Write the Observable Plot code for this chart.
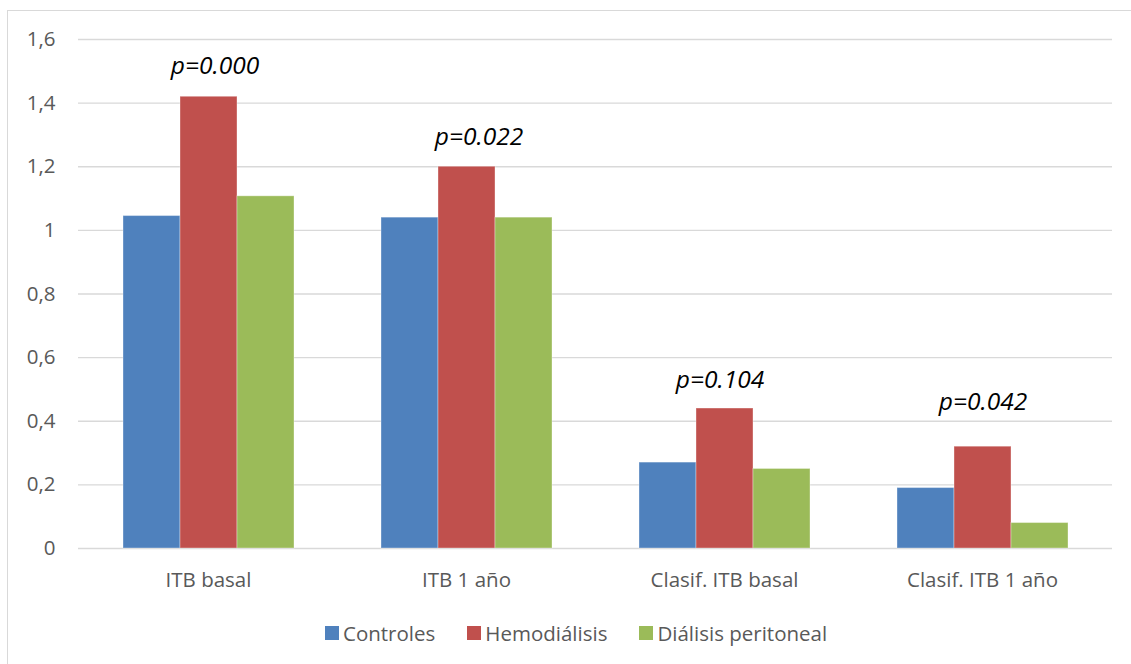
<!DOCTYPE html>
<html>
<head>
<meta charset="utf-8">
<script src="https://cdn.jsdelivr.net/npm/d3@7"></script>
<script src="https://cdn.jsdelivr.net/npm/@observablehq/plot@0.6"></script>
<style>
  html, body { margin: 0; padding: 0; background: #fff; overflow: hidden; width: 1131px; height: 664px; }
  #frame { position: absolute; left: 7px; top: 10px; width: 1300px; height: 800px; border: 1px solid #d9d9d9; box-sizing: border-box; }
  #grid, #chart { position: absolute; left: 0; top: 0; }
  #legend { position: absolute; left: 325px; top: 620px; display: flex;
            font-family: "Open Sans", sans-serif; font-size: 20.5px; color: #595959; line-height: 26px; white-space: nowrap; }
  #legend .item { display: flex; align-items: center; margin-right: 32px; }
  #legend .sw { width: 14px; height: 14px; margin-right: 4px; }
</style>
</head>
<body>
<div id="frame"></div>
<div id="grid"></div>
<div id="chart"></div>
<div id="legend"></div>
<script>
// Categories and groups
const categories = ["ITB basal", "ITB 1 año", "Clasif. ITB basal", "Clasif. ITB 1 año"];
const series = ["Controles", "Hemodiálisis", "Diálisis peritoneal"];

// Values per group, in category order
const controles = [1.045, 1.04, 0.27, 0.19];
const hemodialisis = [1.42, 1.20, 0.44, 0.32];
const dialisisPeritoneal = [1.107, 1.04, 0.25, 0.08];

// Significance per category
const pValues = ["p=0.000", "p=0.022", "p=0.104", "p=0.042"];

// Y axis ticks
const yTicks = [0, 0.2, 0.4, 0.6, 0.8, 1, 1.2, 1.4, 1.6];

const colors = ["#4F81BD", "#C0504D", "#9BBB59"];

// Where each p-value annotation sits (y in data units, horizontal nudge in px)
const pLabelY = [1.515, 1.294, 0.529, 0.459];
const pLabelNudge = [6, 12, -5, 0];

const valuesBySeries = [controles, hemodialisis, dialisisPeritoneal];
const rows = categories.flatMap((c, i) =>
  series.map((s, j) => ({category: c, series: s, value: valuesBySeries[j][i]}))
);

// Shared frame so both layers line up
const frame = {width: 1131, height: 600, marginLeft: 78, marginRight: 19, marginTop: 39, marginBottom: 52};
const baseStyle = {background: "transparent", fontFamily: "'Open Sans', sans-serif", fontSize: "20.5px", color: "#595959", overflow: "visible"};
const yDomain = [0, 1.6];

// Back layer: gridlines across the whole plot area and the value axis
const grid = Plot.plot({
  ...frame,
  style: baseStyle,
  y: {domain: yDomain, label: null},
  marks: [
    Plot.ruleY(yTicks, {stroke: "#d9d9d9", strokeWidth: 1.3}),
    Plot.axisY(yTicks, {tickSize: 0, tickPadding: 23, tickFormat: d => String(d).replace(".", ","), label: null, fill: "#595959"})
  ]
});
document.getElementById("grid").appendChild(grid);

// Front layer: grouped bars, category axis and p-value annotations
const pMarks = categories.map((c, i) =>
  Plot.text([{category: c, series: series[1], y: pLabelY[i], label: pValues[i]}], {
    fx: "category", x: "series", y: "y", text: "label",
    dx: pLabelNudge[i], fill: "#000", fontSize: 24.5, fontStyle: "italic"
  })
);

const chart = Plot.plot({
  ...frame,
  style: baseStyle,
  fx: {domain: categories, paddingInner: 1 / 3, paddingOuter: 1 / 6, axis: "bottom", label: null, tickSize: 0, tickPadding: 24},
  x: {domain: series, padding: 0, axis: null},
  y: {domain: yDomain, axis: null},
  color: {domain: series, range: colors},
  marks: [
    Plot.barY(rows, {fx: "category", x: "series", y: "value", fill: "series", stroke: "#fff", strokeOpacity: 0.35, strokeWidth: 1}),
    ...pMarks
  ]
});
document.getElementById("chart").appendChild(chart);

// Legend
const legend = document.getElementById("legend");
series.forEach((s, i) => {
  const item = document.createElement("div");
  item.className = "item";
  const sw = document.createElement("span");
  sw.className = "sw";
  sw.style.background = colors[i];
  const label = document.createElement("span");
  label.textContent = s;
  item.appendChild(sw);
  item.appendChild(label);
  legend.appendChild(item);
});
</script>
</body>
</html>
